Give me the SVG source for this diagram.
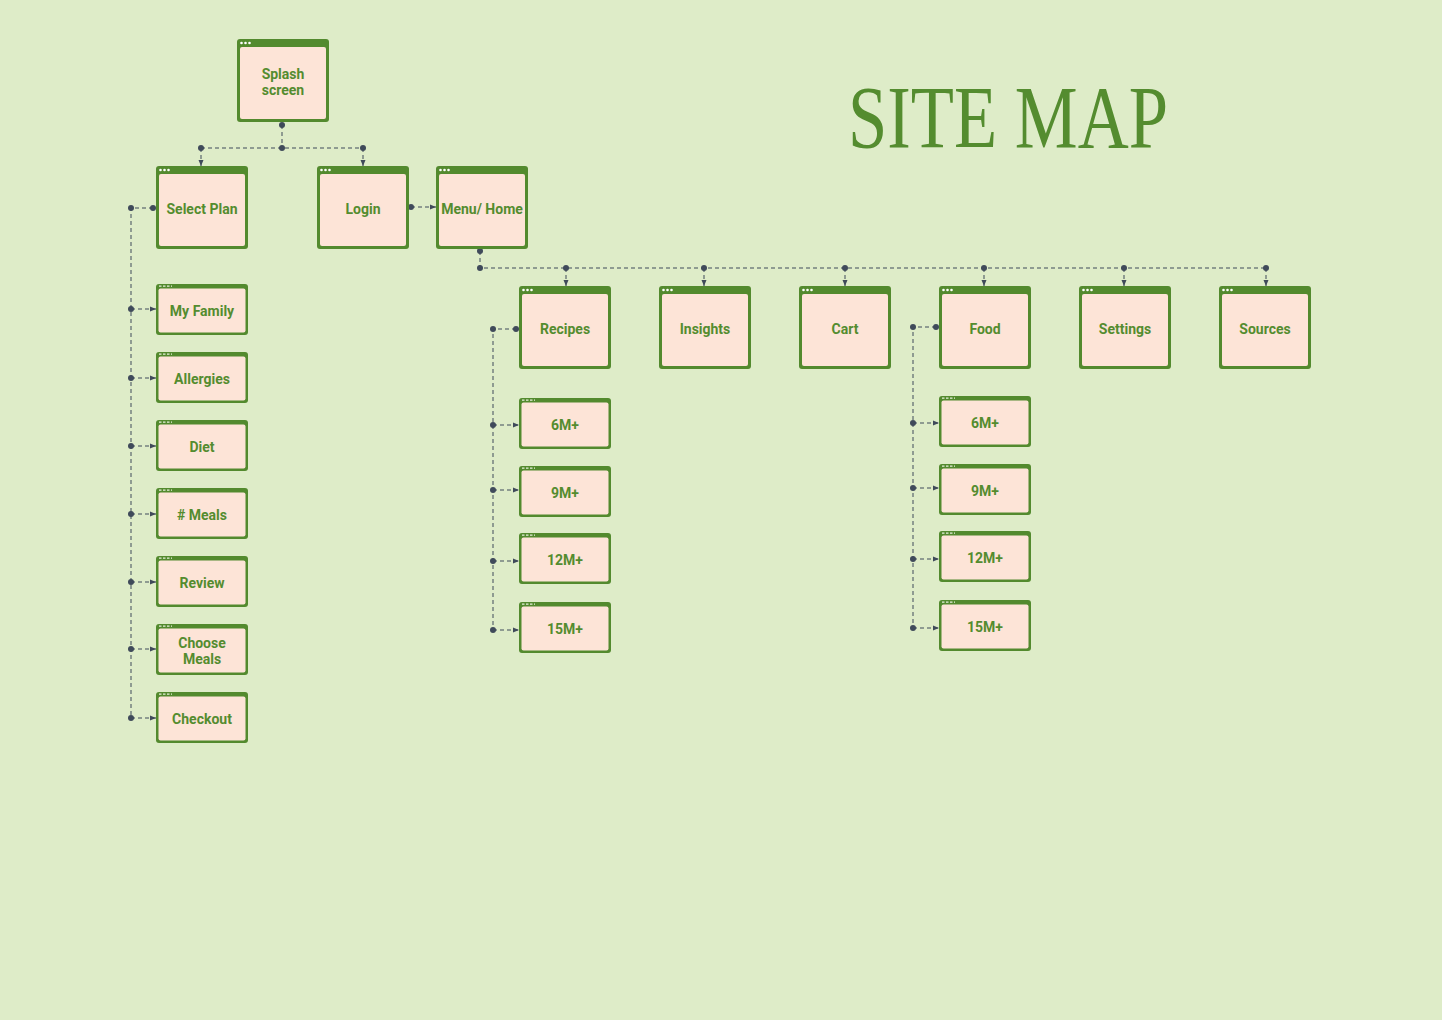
<svg xmlns="http://www.w3.org/2000/svg" width="1442" height="1020" viewBox="0 0 1442 1020">
<defs>
<style>
.o{fill:#538a2e}
.i{fill:#fde4d7}
.d{fill:#ffffff}
.hd{stroke:#e8f0dc;stroke-width:1.2;stroke-dasharray:2.5 1.5}
.t{font-family:Roboto,"Liberation Sans",sans-serif;font-weight:bold;font-size:14px;fill:#548c2f;text-anchor:middle;dominant-baseline:central}
.c{fill:none;stroke:#3f4a5a;stroke-width:1;stroke-dasharray:4 3}
.p{fill:#3f4a5a}
</style>
<marker id="ah" viewBox="0 0 6 6" refX="6" refY="3" markerWidth="6" markerHeight="6" orient="auto" markerUnits="userSpaceOnUse">
<path d="M0,0.5 L6,3 L0,5.5 Z" fill="#3f4a5a"/>
</marker>
<symbol id="big" overflow="visible">
<rect class="o" x="0" y="0" width="92" height="83" rx="3"/>
<rect class="i" x="3" y="8" width="86" height="72" rx="2"/>
<circle class="d" cx="4.5" cy="4" r="1.3"/><circle class="d" cx="8.5" cy="4" r="1.3"/><circle class="d" cx="12.5" cy="4" r="1.3"/>
</symbol>
<symbol id="small" overflow="visible">
<rect class="o" x="0" y="0" width="92" height="51" rx="3"/>
<rect class="i" x="2.5" y="4.5" width="87" height="44" rx="2"/>
<line class="hd" x1="3" y1="2.2" x2="16" y2="2.2"/>
</symbol>
</defs>
<rect width="1442" height="1020" fill="#deecc8"/>

<text x="1008" y="147" font-family="'Liberation Serif','DejaVu Serif',serif" font-size="88" fill="#548c2f" text-anchor="middle" textLength="320" lengthAdjust="spacingAndGlyphs">SITE MAP</text>

<g id="connectors">
<!-- splash -->
<path class="c" d="M282,125 V148 M201,148 H363"/>
<path class="c" d="M201,148 V166" marker-end="url(#ah)"/>
<path class="c" d="M363,148 V166" marker-end="url(#ah)"/>
<circle class="p" cx="282" cy="125" r="3"/>
<circle class="p" cx="282" cy="148" r="3"/>
<circle class="p" cx="201" cy="148" r="3"/>
<circle class="p" cx="363" cy="148" r="3"/>
<!-- login to menu -->
<path class="c" d="M411,207 H436" marker-end="url(#ah)"/>
<circle class="p" cx="411" cy="207" r="3"/>
<!-- select plan -->
<path class="c" d="M153,208 H131 V718"/>
<circle class="p" cx="153" cy="208" r="3"/>
<circle class="p" cx="131" cy="208" r="3"/>
<path class="c" d="M131,309 H156" marker-end="url(#ah)"/>
<path class="c" d="M131,378 H156" marker-end="url(#ah)"/>
<path class="c" d="M131,446 H156" marker-end="url(#ah)"/>
<path class="c" d="M131,514 H156" marker-end="url(#ah)"/>
<path class="c" d="M131,582 H156" marker-end="url(#ah)"/>
<path class="c" d="M131,649 H156" marker-end="url(#ah)"/>
<path class="c" d="M131,718 H156" marker-end="url(#ah)"/>
<circle class="p" cx="131" cy="309" r="3"/>
<circle class="p" cx="131" cy="378" r="3"/>
<circle class="p" cx="131" cy="446" r="3"/>
<circle class="p" cx="131" cy="514" r="3"/>
<circle class="p" cx="131" cy="582" r="3"/>
<circle class="p" cx="131" cy="649" r="3"/>
<circle class="p" cx="131" cy="718" r="3"/>
<!-- menu -->
<path class="c" d="M480,251 V268 H1266"/>
<circle class="p" cx="480" cy="251" r="3"/>
<circle class="p" cx="480" cy="268" r="3"/>
<path class="c" d="M566,268 V286" marker-end="url(#ah)"/>
<path class="c" d="M704,268 V286" marker-end="url(#ah)"/>
<path class="c" d="M845,268 V286" marker-end="url(#ah)"/>
<path class="c" d="M984,268 V286" marker-end="url(#ah)"/>
<path class="c" d="M1124,268 V286" marker-end="url(#ah)"/>
<path class="c" d="M1266,268 V286" marker-end="url(#ah)"/>
<circle class="p" cx="566" cy="268" r="3"/>
<circle class="p" cx="704" cy="268" r="3"/>
<circle class="p" cx="845" cy="268" r="3"/>
<circle class="p" cx="984" cy="268" r="3"/>
<circle class="p" cx="1124" cy="268" r="3"/>
<circle class="p" cx="1266" cy="268" r="3"/>
<!-- recipes -->
<path class="c" d="M516,329 H493 V630"/>
<circle class="p" cx="516" cy="329" r="3"/>
<circle class="p" cx="493" cy="329" r="3"/>
<path class="c" d="M493,425 H519" marker-end="url(#ah)"/>
<path class="c" d="M493,490 H519" marker-end="url(#ah)"/>
<path class="c" d="M493,561 H519" marker-end="url(#ah)"/>
<path class="c" d="M493,630 H519" marker-end="url(#ah)"/>
<circle class="p" cx="493" cy="425" r="3"/>
<circle class="p" cx="493" cy="490" r="3"/>
<circle class="p" cx="493" cy="561" r="3"/>
<circle class="p" cx="493" cy="630" r="3"/>
<!-- food -->
<path class="c" d="M936,327 H913 V628"/>
<circle class="p" cx="936" cy="327" r="3"/>
<circle class="p" cx="913" cy="327" r="3"/>
<path class="c" d="M913,423 H939" marker-end="url(#ah)"/>
<path class="c" d="M913,488 H939" marker-end="url(#ah)"/>
<path class="c" d="M913,559 H939" marker-end="url(#ah)"/>
<path class="c" d="M913,628 H939" marker-end="url(#ah)"/>
<circle class="p" cx="913" cy="423" r="3"/>
<circle class="p" cx="913" cy="488" r="3"/>
<circle class="p" cx="913" cy="559" r="3"/>
<circle class="p" cx="913" cy="628" r="3"/>
</g>

<g id="splash"><use href="#big" x="237" y="39"/><text class="t" x="283" y="74">Splash</text><text class="t" x="283" y="90">screen</text></g>
<g id="select-plan"><use href="#big" x="156" y="166"/><text class="t" x="202" y="209">Select Plan</text></g>
<g id="login"><use href="#big" x="317" y="166"/><text class="t" x="363" y="209">Login</text></g>
<g id="menu-home"><use href="#big" x="436" y="166"/><text class="t" x="482" y="209">Menu/ Home</text></g>

<g id="my-family"><use href="#small" x="156" y="284"/><text class="t" x="202" y="311">My Family</text></g>
<g id="allergies"><use href="#small" x="156" y="352"/><text class="t" x="202" y="379">Allergies</text></g>
<g id="diet"><use href="#small" x="156" y="420"/><text class="t" x="202" y="447">Diet</text></g>
<g id="meals"><use href="#small" x="156" y="488"/><text class="t" x="202" y="515"># Meals</text></g>
<g id="review"><use href="#small" x="156" y="556"/><text class="t" x="202" y="583">Review</text></g>
<g id="choose-meals"><use href="#small" x="156" y="624"/><text class="t" x="202" y="643">Choose</text><text class="t" x="202" y="659">Meals</text></g>
<g id="checkout"><use href="#small" x="156" y="692"/><text class="t" x="202" y="719">Checkout</text></g>

<g id="recipes"><use href="#big" x="519" y="286"/><text class="t" x="565" y="329">Recipes</text></g>
<g id="insights"><use href="#big" x="659" y="286"/><text class="t" x="705" y="329">Insights</text></g>
<g id="cart"><use href="#big" x="799" y="286"/><text class="t" x="845" y="329">Cart</text></g>
<g id="food"><use href="#big" x="939" y="286"/><text class="t" x="985" y="329">Food</text></g>
<g id="settings"><use href="#big" x="1079" y="286"/><text class="t" x="1125" y="329">Settings</text></g>
<g id="sources"><use href="#big" x="1219" y="286"/><text class="t" x="1265" y="329">Sources</text></g>

<g id="recipes-6m"><use href="#small" x="519" y="398"/><text class="t" x="565" y="425">6M+</text></g>
<g id="recipes-9m"><use href="#small" x="519" y="466"/><text class="t" x="565" y="493">9M+</text></g>
<g id="recipes-12m"><use href="#small" x="519" y="533"/><text class="t" x="565" y="560">12M+</text></g>
<g id="recipes-15m"><use href="#small" x="519" y="602"/><text class="t" x="565" y="629">15M+</text></g>

<g id="food-6m"><use href="#small" x="939" y="396"/><text class="t" x="985" y="423">6M+</text></g>
<g id="food-9m"><use href="#small" x="939" y="464"/><text class="t" x="985" y="491">9M+</text></g>
<g id="food-12m"><use href="#small" x="939" y="531"/><text class="t" x="985" y="558">12M+</text></g>
<g id="food-15m"><use href="#small" x="939" y="600"/><text class="t" x="985" y="627">15M+</text></g>
</svg>
